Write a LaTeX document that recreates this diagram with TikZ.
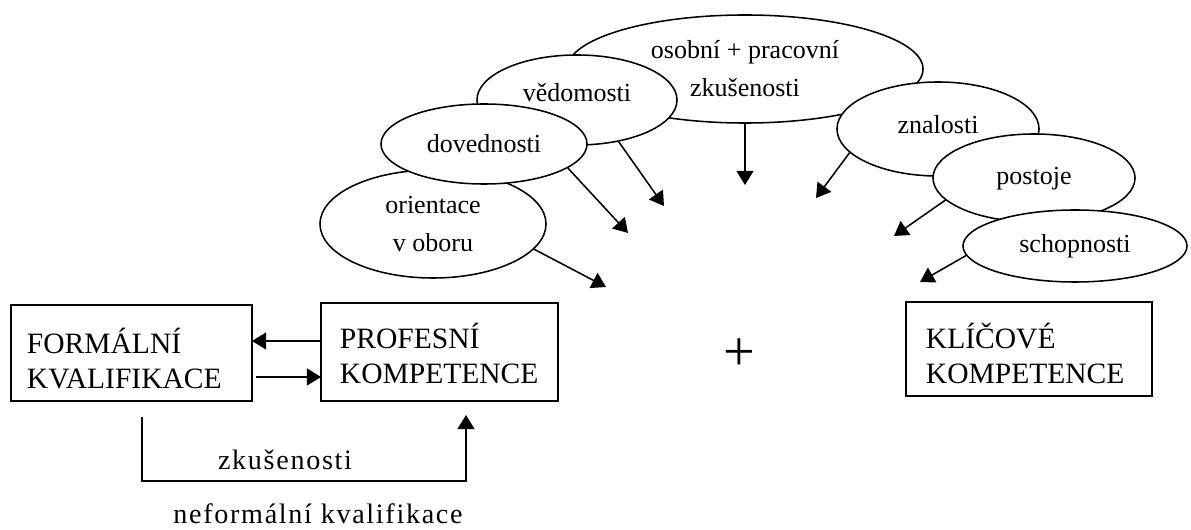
\documentclass[tikz,border=0pt]{standalone}
\usepackage{fontspec}
\setmainfont{Liberation Serif}
\newfontfamily\spacedfont[LetterSpace=6]{Liberation Serif}
\usetikzlibrary{shapes.geometric,arrows.meta}

\begin{document}
\begin{tikzpicture}[x=0.025cm,y=-0.025cm,line width=1.1pt,
  bubble/.style={draw,ellipse,fill=white,inner sep=0pt,align=center,
    font=\fontsize{18.5}{27}\selectfont},
  qbox/.style={draw,rectangle,inner sep=0pt},
  qtext/.style={anchor=west,align=left,inner sep=0pt,
    font=\fontsize{21}{25}\selectfont},
  arr/.style={-{Triangle[length=10pt,width=12pt]}}]
		\useasboundingbox (0,0) rectangle (1191,530);

		% what feeds into the competences
		\node[bubble,minimum width=8.9cm,minimum height=2.7cm] (Osobni) at (745,69) {osobní + pracovní\\zkušenosti};
		\node[bubble,minimum width=5cm,minimum height=2.25cm,text depth=0.4cm] (Vedomosti) at (577,100) {vědomosti};
		\node[bubble,minimum width=5.65cm,minimum height=2.7cm] (Orientace) at (433,224) {orientace\\v oboru};
		\node[bubble,minimum width=5.15cm,minimum height=2cm] (Dovednosti) at (484,144) {dovednosti};
		\node[bubble,minimum width=5.05cm,minimum height=2.35cm,text depth=0.25cm] (Znalosti) at (938,129) {znalosti};
		\node[bubble,minimum width=5.05cm,minimum height=2.2cm,text depth=0.1cm] (Postoje) at (1034,178) {postoje};
		\node[bubble,minimum width=5.6cm,minimum height=1.8cm] (Schopnosti) at (1075,246) {schopnosti};

		\coordinate (tOri) at (606,287);
		\coordinate (tDov) at (628,233);
		\coordinate (tVed) at (664,206);
		\coordinate (tOso) at (745,185);
		\coordinate (tZna) at (816,198);
		\coordinate (tPos) at (894,236);
		\coordinate (tSch) at (920,282);

		\draw[arr] (Orientace.-14) to (tOri);
		\draw[arr] (Dovednosti.-16) to (tDov);
		\draw[arr] (Vedomosti.-45) to (tVed);
		\draw[arr] (Osobni.south) to (tOso);
		\draw[arr] (Znalosti.195) to (tZna);
		\draw[arr] (Postoje.194) to (tPos);
		\draw[arr] (Schopnosti.185) to (tSch);

		% boxes
		\node[qbox,minimum width=6.025cm,minimum height=2.4cm] (Formalni) at (131.5,353) {};
		\node[qtext] (FormalniT) at ([xshift=0.4cm,yshift=-0.14cm]Formalni.west) {FORMÁLNÍ\\KVALIFIKACE};
		\node[qbox,minimum width=5.925cm,minimum height=2.45cm] (Profesni) at (439.5,352) {};
		\node[qtext] (ProfesniT) at ([xshift=0.475cm,yshift=-0.03cm]Profesni.west) {PROFESNÍ\\KOMPETENCE};
		\node[qbox,minimum width=6.15cm,minimum height=2.35cm] (Klicove) at (1029,349) {};
		\node[qtext] (KlicoveT) at ([xshift=0.5cm,yshift=-0.12cm]Klicove.west) {KLÍČOVÉ\\KOMPETENCE};
		\node[font=\fontsize{40}{40}\selectfont] (Plus) at (739,355) {+};

		\coordinate (pUp) at (321,341);
		\coordinate (fUp) at (252,341);
		\coordinate (fDown) at (256,377);
		\coordinate (pDown) at (321,377);
		\draw[arr] (pUp) to (fUp);
		\draw[arr] (fDown) to (pDown);

		% the way round, by experience
		\coordinate (kStart) at (142,417);
		\coordinate (kCorner) at (142,481);
		\coordinate (kEnd) at (466,415);
		\draw[arr] (kStart) -- (kCorner) -| (kEnd);
		\node[font=\fontsize{20}{24}\spacedfont] (Zkus) at (285,460) {zkušenosti};
		\node[font=\fontsize{20}{24}\spacedfont] (Neformalni) at (318,514) {neformální kvalifikace};
\end{tikzpicture}
\end{document}
